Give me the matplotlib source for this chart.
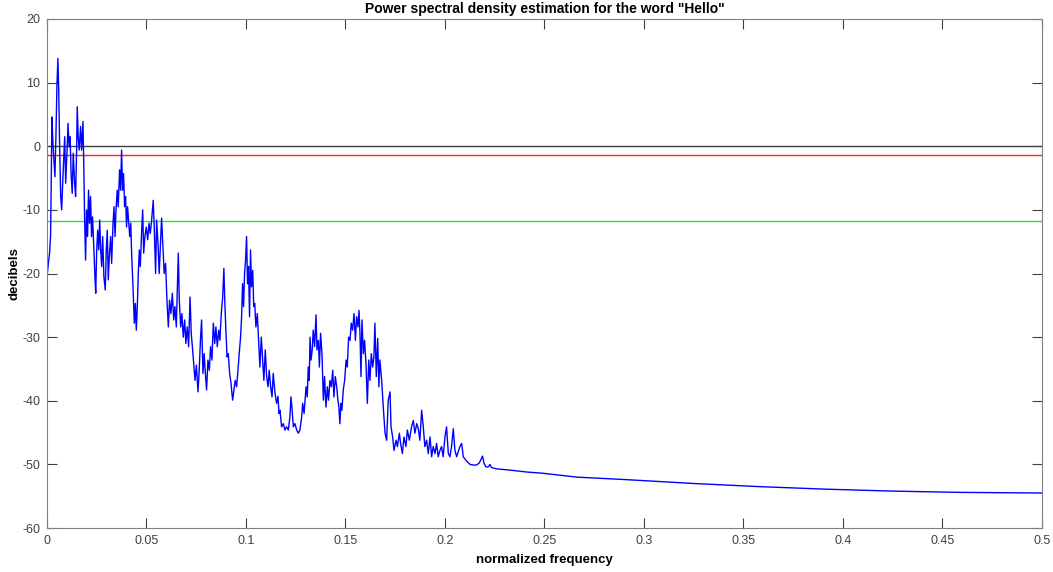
import matplotlib
matplotlib.use("Agg")
import matplotlib.pyplot as plt

# PSD trace (normalized frequency, dB)
freq = [
    0.0000, 0.0002, 0.0007, 0.0013, 0.0018, 0.0021, 0.0025, 0.0030, 0.0035, 0.0040,
    0.0045, 0.0050, 0.0055, 0.0059, 0.0064, 0.0069, 0.0074, 0.0079, 0.0084, 0.0089,
    0.0094, 0.0101, 0.0106, 0.0111, 0.0116, 0.0122, 0.0127, 0.0132, 0.0139, 0.0144,
    0.0149, 0.0152, 0.0157, 0.0162, 0.0169, 0.0174, 0.0181, 0.0186, 0.0189, 0.0194,
    0.0199, 0.0204, 0.0209, 0.0214, 0.0219, 0.0224, 0.0229, 0.0236, 0.0241, 0.0245,
    0.0250, 0.0255, 0.0260, 0.0265, 0.0270, 0.0275, 0.0280, 0.0286, 0.0293, 0.0298,
    0.0303, 0.0308, 0.0313, 0.0320, 0.0325, 0.0332, 0.0337, 0.0342, 0.0347, 0.0353,
    0.0358, 0.0365, 0.0370,
    0.0375, 0.0380, 0.0385, 0.0390, 0.0395, 0.0400, 0.0405, 0.0410, 0.0416, 0.0421,
    0.0426, 0.0431, 0.0436, 0.0439, 0.0444, 0.0449, 0.0454, 0.0459, 0.0464, 0.0469,
    0.0476, 0.0481, 0.0486, 0.0492, 0.0499, 0.0506, 0.0513, 0.0519, 0.0526, 0.0534,
    0.0539, 0.0546, 0.0551, 0.0558, 0.0564, 0.0571, 0.0576, 0.0583, 0.0589, 0.0596,
    0.0603, 0.0610, 0.0616, 0.0623, 0.0630, 0.0637, 0.0643, 0.0650, 0.0657, 0.0660,
    0.0665, 0.0672, 0.0678, 0.0685, 0.0692, 0.0698, 0.0705, 0.0712, 0.0719, 0.0725,
    0.0732, 0.0744, 0.0751, 0.0759, 0.0764,
    0.0772, 0.0777, 0.0784, 0.0790, 0.0797, 0.0802, 0.0809, 0.0816, 0.0822, 0.0829,
    0.0836, 0.0843, 0.0849, 0.0856, 0.0863, 0.0869, 0.0876, 0.0883, 0.0889, 0.0894,
    0.0899, 0.0905, 0.0911, 0.0918, 0.0925, 0.0933, 0.0940, 0.0946, 0.0953, 0.0960,
    0.0966, 0.0973, 0.0978, 0.0983, 0.0988, 0.0993, 0.0998, 0.1003, 0.1008, 0.1013,
    0.1018, 0.1023, 0.1028, 0.1034, 0.1039, 0.1044, 0.1050, 0.1057, 0.1064, 0.1070,
    0.1077, 0.1084, 0.1090, 0.1097, 0.1104, 0.1111, 0.1117, 0.1124, 0.1131, 0.1137,
    0.1146, 0.1154, 0.1161, 0.1166,
    0.1171, 0.1179, 0.1188, 0.1196, 0.1204, 0.1213, 0.1221, 0.1226, 0.1231, 0.1238,
    0.1246, 0.1255, 0.1263, 0.1271, 0.1280, 0.1285, 0.1292, 0.1302, 0.1308, 0.1313,
    0.1318, 0.1322, 0.1327, 0.1333, 0.1338, 0.1345, 0.1352, 0.1357, 0.1364, 0.1369,
    0.1375, 0.1382, 0.1389, 0.1395, 0.1402, 0.1409, 0.1415, 0.1422, 0.1429, 0.1436,
    0.1442, 0.1449, 0.1456, 0.1462, 0.1467, 0.1472, 0.1477, 0.1482, 0.1489, 0.1496,
    0.1503, 0.1509, 0.1516, 0.1523, 0.1529, 0.1536, 0.1543, 0.1550, 0.1556, 0.1563,
    0.1568, 0.1573, 0.1578, 0.1583, 0.1590, 0.1596, 0.1603, 0.1610, 0.1617, 0.1623,
    0.1630, 0.1637, 0.1643, 0.1648, 0.1655, 0.1662, 0.1668, 0.1673, 0.1682, 0.1690,
    0.1699, 0.1707, 0.1715, 0.1724, 0.1729, 0.1737, 0.1744, 0.1754, 0.1761, 0.1771,
    0.1777, 0.1786, 0.1794, 0.1804, 0.1811, 0.1821, 0.1832, 0.1841, 0.1849, 0.1858,
    0.1866, 0.1874, 0.1883, 0.1891, 0.1899, 0.1908, 0.1916, 0.1925, 0.1933, 0.1941,
    0.1950, 0.1958, 0.1966, 0.1975, 0.1983, 0.1991, 0.2000, 0.2008, 0.2017, 0.2025,
    0.2033, 0.2042, 0.2050, 0.2059, 0.2067, 0.2075, 0.2084, 0.2092, 0.2109, 0.2126,
    0.2142, 0.2159, 0.2172, 0.2183, 0.2189, 0.2196, 0.2206, 0.2218, 0.2226, 0.2234,
    0.2259, 0.2327, 0.2411, 0.2494, 0.2578, 0.2662, 0.2913, 0.3248, 0.3583, 0.3918,
    0.4253, 0.4588, 0.5000,
]
psd_db = [
    -20.3, -20.0, -18.4, -16.8, -14.2, -6.9, 4.6, 0.5, -2.2, -4.8,
    1.5, 9.4, 13.8, 8.8, -0.6, -7.9, -10.0, -5.8, -2.2, 1.5,
    -5.8, -0.6, 3.6, -0.1, 1.5, -4.8, -7.4, -1.1, -5.8, -7.9,
    -0.6, 6.2, 1.5, -0.6, 3.1, -0.6, 3.9, -4.8, -11.1, -17.9,
    -10.0, -14.2, -6.9, -12.1, -7.9, -14.2, -11.1, -16.3, -20.5, -23.1,
    -16.3, -13.2, -16.3, -11.6, -16.3, -18.9, -14.2, -20.5, -22.6, -16.3,
    -13.2, -21.0, -17.4, -14.2, -18.4, -12.1, -9.5, -14.2, -10.0, -6.9,
    -9.5, -3.7, -6.9,
    -0.6, -6.9, -4.3, -9.5, -7.9, -12.7, -9.5, -11.6, -14.2, -12.1,
    -17.4, -21.0, -25.2, -27.8, -24.7, -28.9, -25.2, -20.0, -16.3, -18.9,
    -13.2, -10.0, -16.8, -14.2, -12.7, -14.7, -12.1, -13.7, -11.6, -8.5,
    -12.7, -20.0, -11.6, -15.3, -20.0, -14.7, -11.3, -15.8, -20.0, -18.4,
    -24.2, -28.4, -24.2, -26.3, -23.1, -27.3, -25.2, -28.4, -20.0, -16.8,
    -24.2, -28.4, -26.3, -30.0, -27.3, -31.0, -28.4, -31.5, -23.7, -29.4,
    -32.0, -36.8, -34.4, -38.6, -35.9,
    -30.0, -27.3, -35.7, -32.6, -36.2, -38.3, -33.6, -35.2, -31.5, -33.6,
    -27.8, -31.0, -28.4, -31.5, -28.9, -30.5, -26.3, -23.7, -19.2, -24.7,
    -28.9, -33.1, -32.6, -35.7, -37.3, -39.9, -38.3, -36.8, -37.8, -35.2,
    -32.6, -30.0, -26.8, -21.6, -25.2, -20.0, -17.9, -14.2, -21.6, -18.9,
    -26.8, -16.3, -22.1, -19.5, -25.2, -24.7, -28.4, -26.3, -31.0, -34.7,
    -30.0, -33.6, -36.8, -32.0, -36.2, -37.8, -35.2, -37.8, -39.4, -35.7,
    -38.8, -40.4, -39.3, -42.0,
    -41.5, -44.1, -43.6, -44.6, -44.1, -44.6, -42.5, -39.4, -41.0, -44.1,
    -43.6, -44.6, -45.1, -44.6, -42.5, -40.4, -42.0, -37.8, -39.4, -34.7,
    -36.8, -30.0, -33.6, -32.0, -28.9, -31.5, -26.5, -32.0, -30.5, -34.7,
    -29.4, -32.6, -39.9, -36.2, -41.0, -37.8, -39.9, -36.8, -37.8, -35.2,
    -39.4, -36.2, -37.8, -39.9, -41.0, -43.6, -40.4, -41.5, -38.3, -36.8,
    -33.6, -34.7, -30.0, -30.5, -27.8, -28.9, -26.3, -30.5, -26.8, -28.4,
    -25.8, -29.4, -36.2, -27.3, -32.6, -30.5, -34.1, -40.4, -33.6, -36.8,
    -32.6, -34.7, -33.1, -27.8, -36.2, -30.2, -37.8, -33.6, -36.8, -41.0,
    -45.1, -46.2, -39.9, -38.6, -44.1, -45.7, -47.8, -46.2, -47.2, -45.1,
    -46.7, -48.3, -45.7, -47.2, -44.6, -46.2, -44.1, -43.1, -45.1, -43.6,
    -44.4, -46.2, -41.5, -44.1, -47.2, -46.2, -48.3, -45.7, -48.8, -47.2,
    -48.3, -46.7, -48.8, -47.8, -47.2, -48.8, -45.7, -44.1, -48.3, -48.8,
    -47.2, -44.4, -47.8, -48.8, -48.0, -47.2, -46.7, -48.8, -49.5, -50.0,
    -50.1, -50.1, -49.8, -49.1, -48.7, -49.8, -50.4, -50.4, -50.0, -50.5,
    -50.7, -50.9, -51.2, -51.4, -51.7, -52.0, -52.4, -53.0, -53.5, -53.9,
    -54.2, -54.4, -54.5,
]

# reference levels (dB)
level_zero = 0.0
level_red = -1.4
level_green = -11.7

xticks = [0, 0.05, 0.1, 0.15, 0.2, 0.25, 0.3, 0.35, 0.4, 0.45, 0.5]
xtick_labels = ["0", "0.05", "0.1", "0.15", "0.2", "0.25", "0.3", "0.35", "0.4", "0.45", "0.5"]
yticks = [-60, -50, -40, -30, -20, -10, 0, 10, 20]

plt.rcParams["font.family"] = ["Liberation Sans", "DejaVu Sans"]
plt.rcParams["axes.unicode_minus"] = False

fig = plt.figure(figsize=(10.53, 5.72), dpi=100, facecolor="white")
ax = fig.add_axes([0.0446, 0.0769, 0.9449, 0.8899])

ax.axhline(level_zero, color="#404040", lw=1.0)
ax.axhline(level_red, color="#ff2020", lw=1.0)
ax.axhline(level_green, color="#30e030", lw=1.0)
ax.plot(freq, psd_db, color="#0000ff", lw=1.0)

ax.set_xlim(0, 0.5)
ax.set_ylim(-60, 20)
ax.set_xticks(xticks)
ax.set_xticklabels(xtick_labels)
ax.set_yticks(yticks)
ax.tick_params(direction="in", length=7, width=0.8, top=True, right=True,
               labelsize=9, labelcolor="#404040", color="#404040", pad=5)
for s in ax.spines.values():
    s.set_color("#808080")
    s.set_linewidth(0.8)

ax.set_title('Power spectral density estimation for the word "Hello"',
             fontsize=10, fontweight="bold", pad=4)
ax.set_xlabel("normalized frequency", fontsize=9.5, fontweight="bold", labelpad=5)
ax.set_ylabel("decibels", fontsize=9.5, fontweight="bold")
ax.yaxis.set_label_coords(-0.027, 0.5)

fig.savefig("out.png", dpi=100, facecolor="white")
